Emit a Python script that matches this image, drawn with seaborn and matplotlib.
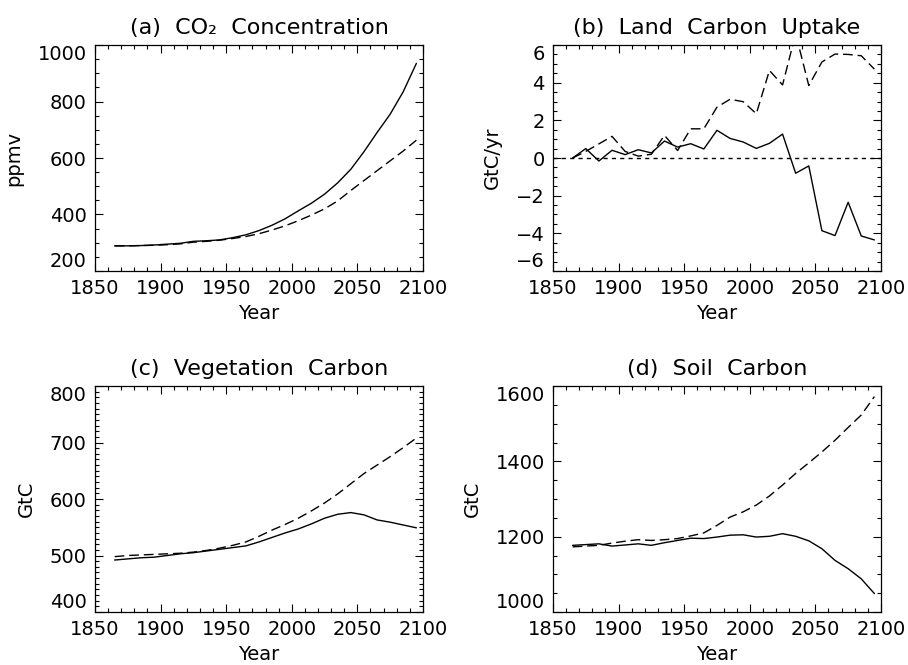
import numpy as np
import pandas as pd
import matplotlib
matplotlib.use("Agg")
import matplotlib.pyplot as plt
from matplotlib.ticker import MultipleLocator
import seaborn as sns

# decadal means, 1865 ... 2095
years = list(range(1865, 2100, 10))

co2_solid = [289, 289, 290, 292, 295, 298, 305, 307, 310, 318, 328, 343,
             362, 385, 413, 440, 472, 512, 560, 622, 690, 755, 835, 935]
co2_dash = [289, 289, 290, 291, 293, 296, 302, 305, 309, 315, 322, 332,
            345, 360, 378, 398, 420, 448, 485, 520, 555, 590, 625, 663]

uptake_solid = [0.0, 0.50, -0.16, 0.41, 0.18, 0.44, 0.27, 0.90, 0.58, 0.76, 0.48, 1.47,
                1.04, 0.85, 0.51, 0.78, 1.27, -0.81, -0.42, -3.86, -4.12, -2.35, -4.14, -4.35]
uptake_dash = [0.0, 0.35, 0.75, 1.15, 0.35, 0.10, 0.20, 1.20, 0.40, 1.55, 1.55, 2.70,
               3.12, 2.99, 2.35, 4.65, 3.88, 6.6, 3.85, 5.1, 5.52, 5.5, 5.43, 4.72]

veg_solid = [492, 494, 496, 497, 500, 503, 505, 508, 511, 514, 517, 524,
             532, 540, 547, 556, 566, 573, 576, 572, 563, 559, 554, 549]
veg_dash = [498, 500, 501, 502, 503, 504, 506, 509, 513, 518, 524, 534,
            545, 555, 566, 579, 593, 609, 627, 645, 660, 675, 691, 708]

soil_solid = [1177, 1179, 1181, 1175, 1178, 1181, 1177, 1184, 1190, 1196, 1195, 1199,
              1204, 1205, 1199, 1201, 1208, 1201, 1189, 1168, 1137, 1115, 1088, 1049]
soil_dash = [1173, 1175, 1177, 1183, 1188, 1192, 1190, 1192, 1195, 1202, 1210, 1230,
             1252, 1266, 1284, 1308, 1337, 1368, 1396, 1425, 1456, 1490, 1523, 1572]

titles = ["(a)  CO\u2082  Concentration", "(b)  Land  Carbon  Uptake",
          "(c)  Vegetation  Carbon", "(d)  Soil  Carbon"]
ylabels = ["ppmv", "GtC/yr", "GtC", "GtC"]
ylims = [(200, 1000), (-6, 6), (400, 800), (1000, 1600)]
ymajor = [200, 2, 100, 200]
yminor = [50, 0.5, 10, 50]

sns.set_style("ticks")
plt.rcParams["font.family"] = ["DejaVu Sans"]
plt.rcParams["font.size"] = 14
for k in ["text.color", "axes.labelcolor", "xtick.color", "ytick.color", "axes.edgecolor"]:
    plt.rcParams[k] = "black"

fig = plt.figure(figsize=(9.08, 6.65), dpi=100)
boxes = [[0.1046, 0.5925, 0.3612, 0.3398], [0.609, 0.5925, 0.3612, 0.3398],
         [0.1046, 0.0797, 0.3612, 0.3398], [0.609, 0.0797, 0.3612, 0.3398]]
series = [(co2_solid, co2_dash), (uptake_solid, uptake_dash),
          (veg_solid, veg_dash), (soil_solid, soil_dash)]

for i in range(4):
    ax = fig.add_axes(boxes[i])
    solid, dash = series[i]
    df = pd.DataFrame({"year": years, "solid": solid, "dash": dash})
    if i == 1:
        ax.axhline(0, color="black", lw=1.0, linestyle=(0, (3, 3)))
    sns.lineplot(data=df, x="year", y="solid", ax=ax, color="black", lw=1.0)
    sns.lineplot(data=df, x="year", y="dash", ax=ax, color="black", lw=1.0,
                 linestyle=(0, (7, 3.5)))
    ax.set_xlim(1850, 2100)
    ax.set_ylim(*ylims[i])
    ax.xaxis.set_major_locator(MultipleLocator(50))
    ax.xaxis.set_minor_locator(MultipleLocator(10))
    ax.yaxis.set_major_locator(MultipleLocator(ymajor[i]))
    ax.yaxis.set_minor_locator(MultipleLocator(yminor[i]))
    ax.tick_params(which="both", direction="in", top=True, right=True,
                   width=0.8, labelsize=14)
    ax.tick_params(which="major", length=5.5, pad=6)
    ax.tick_params(which="minor", length=2.8)
    for s in ax.spines.values():
        s.set_linewidth(0.9)
        s.set_color("black")
    ax.set_xlabel("Year", fontsize=14, labelpad=4)
    ax.set_ylabel(ylabels[i], fontsize=14, labelpad=10)
    ax.set_title(titles[i], fontsize=16, pad=8)
    # nudge the end labels inside the axis, as the original does
    fig.canvas.draw()
    lo, hi = ylims[i]
    for tk in ax.yaxis.get_major_ticks():
        if abs(tk.get_loc() - lo) < 1e-6:
            tk.label1.set_va("bottom")
        elif abs(tk.get_loc() - hi) < 1e-6:
            tk.label1.set_va("top")

fig.savefig("out.png", dpi=100)
